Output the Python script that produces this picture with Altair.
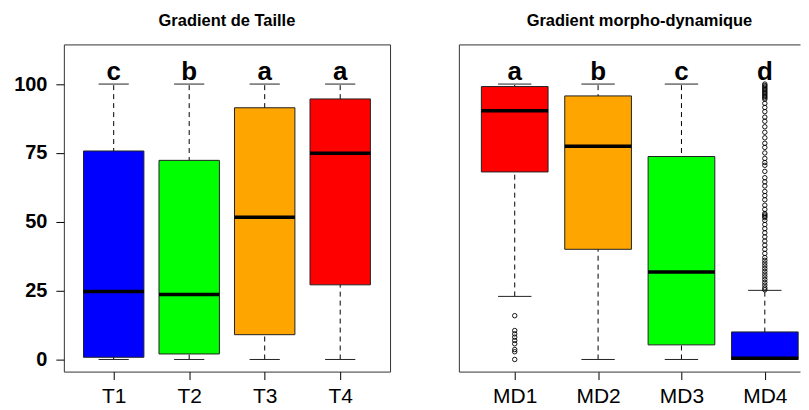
import altair as alt
import pandas as pd

FONT = "Liberation Sans"

# ---- Panel 1 : Gradient de Taille ----
T_CATS = ["T1", "T2", "T3", "T4"]
T_Q1 = [0.8, 2.0, 9.0, 27.1]
T_MED = [24.7, 23.6, 51.6, 74.9]
T_Q3 = [75.7, 72.3, 91.4, 94.6]
T_LO = [0.0, 0.0, 0.0, 0.0]
T_HI = [100.0, 100.0, 100.0, 100.0]
T_LETTERS = ["c", "b", "a", "a"]
T_COLORS = ["#0000FF", "#00FF00", "#FFA500", "#FF0000"]
T_OUT_POS = []
T_OUT_VAL = []

# ---- Panel 2 : Gradient morpho-dynamique ----
MD_CATS = ["MD1", "MD2", "MD3", "MD4"]
MD_Q1 = [68.1, 40.0, 5.3, 0.0]
MD_MED = [90.3, 77.4, 31.8, 0.4]
MD_Q3 = [99.1, 95.7, 73.7, 10.0]
MD_LO = [22.9, 0.0, 0.0, 0.0]
MD_HI = [100.0, 100.0, 100.0, 25.1]
MD_LETTERS = ["a", "b", "c", "d"]
MD_COLORS = ["#FF0000", "#FFA500", "#00FF00", "#0000FF"]
MD1_OUT = [15.9, 10.5, 9.3, 8.1, 6.9, 5.7, 3.6, 2.8, 0.0]
MD4_OUT = [100, 99.5, 99, 98.5, 98, 97.5, 97, 96.5, 96, 95.5, 95, 94.5,
           93, 91.5, 90, 88, 86.5, 84.5, 82.5, 80.5, 78.5, 77, 75, 73,
           71.5, 70.5, 68.3, 66, 64.5, 63, 61, 59.5, 58, 56, 54.5,
           53, 52.5, 52, 51.5, 50.5, 49, 47.5, 46, 44.5, 43,
           41.5, 40, 38.5, 37, 36, 35, 34, 33, 32, 31, 30, 29, 28, 27,
           26, 25.3]

Y_TICKS = [0, 25, 50, 75, 100]
Y_DOMAIN = [-4.4, 114.4]
LETTER_Y = 101.4

FRAME = "#333333"
H = 328


def panel(title, cats, q1, med, q3, lo, hi, letters, colors, out_pos, out_val,
          width, xdom, left, title_dx):
    df = pd.DataFrame({
        "pos": list(range(1, len(cats) + 1)), "cat": cats, "q1": q1,
        "med": med, "q3": q3, "lo": lo, "hi": hi, "letter": letters,
    })
    out_df = pd.DataFrame({"pos": out_pos, "value": out_val})
    xs = alt.Scale(domain=xdom, nice=False, zero=False)
    ys = alt.Scale(domain=Y_DOMAIN, nice=False, zero=False)
    label_expr = "[" + ",".join("'%s'" % c for c in cats) + "][datum.value - 1]"

    xaxis = alt.Axis(values=[1, 2, 3, 4], labelExpr=label_expr, title=None,
                     grid=False, domain=not left, domainColor=FRAME,
                     ticks=True, tickSize=8, tickColor="black",
                     labelFont=FONT, labelFontSize=21, labelColor="black",
                     labelPadding=6, labelFlush=False)
    if left:
        yaxis = alt.Axis(values=Y_TICKS, title=None, grid=False, domain=False,
                         tickSize=8, tickColor="black", labelFont=FONT,
                         labelFontSize=20, labelFontWeight="bold",
                         labelColor="black", labelPadding=9, minExtent=0)
    else:
        yaxis = alt.Axis(title=None, grid=False, domain=True, domainColor=FRAME,
                         ticks=False, labels=False, minExtent=0, maxExtent=0)

    base = alt.Chart(df).transform_calculate(
        xl="datum.pos - 0.4", xr="datum.pos + 0.4",
        cl="datum.pos - 0.2", cr="datum.pos + 0.2")

    whisk = base.mark_rule(strokeDash=[5, 4], color="black", strokeWidth=1).encode(
        x=alt.X("pos:Q", scale=xs, axis=xaxis),
        y=alt.Y("lo:Q", scale=ys, axis=yaxis), y2="hi:Q")
    cap_lo = base.mark_rule(color="#222", strokeWidth=1).encode(
        x=alt.X("cl:Q", scale=xs, axis=None), x2="cr:Q",
        y=alt.Y("lo:Q", scale=ys, axis=None))
    cap_hi = base.mark_rule(color="#222", strokeWidth=1).encode(
        x=alt.X("cl:Q", scale=xs, axis=None), x2="cr:Q",
        y=alt.Y("hi:Q", scale=ys, axis=None))
    box = base.mark_rect(stroke="#222", strokeWidth=1).encode(
        x=alt.X("xl:Q", scale=xs, axis=None), x2="xr:Q",
        y=alt.Y("q1:Q", scale=ys, axis=None), y2="q3:Q",
        fill=alt.Fill("cat:N", scale=alt.Scale(domain=cats, range=colors), legend=None))
    median = base.mark_rule(color="black", strokeWidth=3.5).encode(
        x=alt.X("xl:Q", scale=xs, axis=None), x2="xr:Q",
        y=alt.Y("med:Q", scale=ys, axis=None))
    top_axis = (alt.Axis(orient="top", title=None, labels=False, ticks=False,
                         grid=False, domain=True, domainColor=FRAME,
                         minExtent=0, maxExtent=0)
                if not left else None)
    text = base.mark_text(font=FONT, fontSize=26, fontWeight="bold",
                          baseline="alphabetic", color="black").encode(
        x=alt.X("pos:Q", scale=xs, axis=top_axis),
        y=alt.Y(datum=LETTER_Y, scale=ys, axis=None),
        text="letter:N")
    layers = [whisk, cap_lo, cap_hi, box, median, text]
    if len(out_pos):
        pts = alt.Chart(out_df).mark_point(shape="circle", filled=False, size=20,
                                           color="black", strokeWidth=0.9,
                                           opacity=1).encode(
            x=alt.X("pos:Q", scale=xs, axis=None),
            y=alt.Y("value:Q", scale=ys, axis=None))
        layers.append(pts)
    ch = alt.layer(*layers).properties(
        width=width, height=H,
        title=alt.TitleParams(title, font=FONT, fontSize=16.5, fontWeight="bold",
                              color="black", anchor="middle", baseline="alphabetic",
                              offset=1.5, dx=title_dx),
        view=alt.ViewBackground(stroke=FRAME if left else "transparent",
                                strokeWidth=1))
    ch = ch.resolve_axis(x="independent", y="independent")
    return ch


left = panel("Gradient de Taille", T_CATS, T_Q1, T_MED, T_Q3, T_LO, T_HI,
             T_LETTERS, T_COLORS, T_OUT_POS, T_OUT_VAL, 327, [0.34, 4.66], True, 0)

md_out_pos = [1] * len(MD1_OUT) + [4] * len(MD4_OUT)
md_out_val = MD1_OUT + MD4_OUT
right = panel("Gradient morpho-dynamique", MD_CATS, MD_Q1, MD_MED, MD_Q3, MD_LO,
              MD_HI, MD_LETTERS, MD_COLORS, md_out_pos, md_out_val, 342,
              [0.33, 4.422], False, 10)

chart = alt.hconcat(left, right, spacing=67).resolve_scale(
    fill="independent", x="independent", y="independent"
).properties(
    padding={"left": 5, "top": 4, "right": 0, "bottom": 0},
    background="white",
).configure_view(strokeWidth=1)

chart.save("out.html", embed_options={"renderer": "svg", "actions": False})
